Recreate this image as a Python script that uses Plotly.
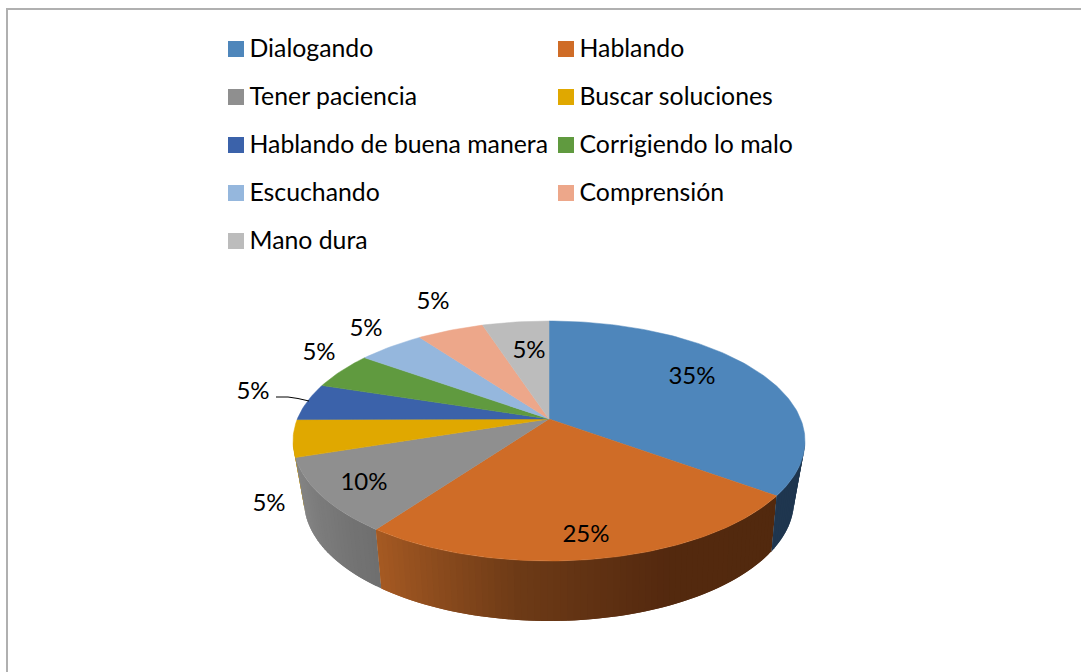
import numpy as np
import plotly.graph_objects as go

# ---- data ----
categories = ["Dialogando", "Hablando", "Tener paciencia", "Buscar soluciones",
              "Hablando de buena manera", "Corrigiendo lo malo", "Escuchando",
              "Comprensión", "Mano dura"]
values = [35, 25, 10, 5, 5, 5, 5, 5, 5]

# ---- style ----
colors = ["#4E86BB", "#CF6C27", "#8F8F8F", "#E0A800", "#3B62AA",
          "#609A3F", "#95B7DD", "#EDA78A", "#BCBCBC"]
wall_stops = {
    0: ["#1F364F", "#1F364F"],
    1: ["#52290E", "#54290F", "#6E3B17", "#A65A23"],
    2: ["#6F6F6F", "#868686"],
    3: ["#C49400", "#C49400"],
}
FONT = "Lato"
KEY_FS = 24.8
LABEL_FS = 24

# ---- tilted-disc geometry (axis units are the page's pixels) ----
CX, CY, RX, RY = 549, 441, 256, 120
AX, AY = 549, 419
BX, BY, BRX, BRY = 549, 501, 245, 120
PERSP = 0.09


def rim_angle(frac):
    z = np.exp(1j * (np.pi / 2 - 2 * np.pi * frac))
    c = PERSP * 1j
    w = (z + c) / (1 + np.conj(c) * z)
    t = (np.pi / 2 - np.angle(w)) % (2 * np.pi)
    return 2 * np.pi if frac >= 1 else t


def top_pt(t):
    return CX + RX * np.sin(t), CY - RY * np.cos(t)


def bot_pt(t):
    d = t - np.pi
    tb = np.pi + d * np.where(d < 0, 1.04, 1.015)
    return BX + BRX * np.sin(tb), BY - BRY * np.cos(tb)


def lerp_color(stops, f):
    rgb = np.array([[int(s[i:i + 2], 16) for i in (1, 3, 5)] for s in stops], float)
    p = f * (len(stops) - 1)
    i = min(int(p), len(stops) - 2)
    c = rgb[i] + (rgb[i + 1] - rgb[i]) * (p - i)
    return "rgb(%d,%d,%d)" % tuple(c)


total = sum(values)
cum = np.cumsum([0] + values) / total
bounds = [rim_angle(f) for f in cum]
bounds[0] = 0.0

fig = go.Figure()

# side walls, painted back to front; each band overlaps the next one so that
# no seams appear between them
for idx in (3, 2, 1, 0):
    t1 = max(bounds[idx], np.pi / 2)
    t2 = min(bounds[idx + 1], 3 * np.pi / 2)
    n = max(int(np.degrees(t2 - t1) / 1.5), 1)
    edges = np.linspace(t1, t2, n + 1)
    for k in range(n):
        ts = np.linspace(edges[k], edges[min(k + 2, n)], 5)
        tx, ty = top_pt(ts)
        bx, by = bot_pt(ts[::-1])
        col = lerp_color(wall_stops[idx], (k + 0.5) / n)
        fig.add_trace(go.Scatter(
            x=np.r_[tx, bx, tx[0]], y=np.r_[ty, by, ty[0]], mode="lines",
            fill="toself", fillcolor=col, line=dict(width=0),
            hoverinfo="skip", showlegend=False))

# top faces
for i, (name, col) in enumerate(zip(categories, colors)):
    n = max(int(np.degrees(bounds[i + 1] - bounds[i])), 4)
    ts = np.linspace(bounds[i], bounds[i + 1], n)
    rx, ry = top_pt(ts)
    fig.add_trace(go.Scatter(
        x=np.r_[AX, rx, AX], y=np.r_[AY, ry, AY], mode="lines", fill="toself",
        fillcolor=col, line=dict(color=col, width=0.5), name=name,
        text=f"{name}: {values[i]}%", hoverinfo="text", showlegend=False))

# leader line of the "Hablando de buena manera" label
fig.add_trace(go.Scatter(x=[276, 288, 298, 309], y=[397, 397, 398.5, 401], mode="lines",
                         line=dict(color="#000000", width=1), hoverinfo="skip",
                         showlegend=False))

# percentage labels (slice order)
label_x = [692, 586, 364, 269, 253, 319, 366, 433, 529]
label_y = [378, 536, 484, 505, 393, 354, 330, 303, 352]
fig.add_trace(go.Scatter(
    x=label_x, y=label_y, mode="text", text=[f"{v}%" for v in values],
    textposition="middle center", textfont=dict(family=FONT, size=LABEL_FS, color="#000000"),
    hoverinfo="skip", showlegend=False))

# key: two columns, rows 48 px apart
for i, (name, col) in enumerate(zip(categories, colors)):
    kx = 236 + 330 * (i % 2)
    ky = 49 + 48 * (i // 2)
    fig.add_trace(go.Scatter(
        x=[kx], y=[ky], mode="markers",
        marker=dict(symbol="square", size=16, color=col, line=dict(width=0)),
        hoverinfo="skip", showlegend=False))
    fig.add_trace(go.Scatter(
        x=[kx + 13.5], y=[ky + 2], mode="text", text=[name], textposition="middle right",
        textfont=dict(family=FONT, size=KEY_FS, color="#000000"),
        hoverinfo="skip", showlegend=False))

fig.update_layout(
    width=1081, height=672, margin=dict(l=0, r=0, t=0, b=0, pad=0),
    paper_bgcolor="#FFFFFF", plot_bgcolor="#FFFFFF", showlegend=False,
    xaxis=dict(range=[0, 1081], visible=False, fixedrange=True),
    yaxis=dict(range=[672, 0], visible=False, fixedrange=True),
    shapes=[
        dict(type="line", xref="x", yref="y", x0=7, x1=7, y0=9, y1=672,
             line=dict(color="#B0B0B0", width=2)),
        dict(type="line", xref="x", yref="y", x0=6, x1=1081, y0=9, y1=9,
             line=dict(color="#B0B0B0", width=2)),
    ],
)

fig.write_html("out.html", config={"displayModeBar": False},
               post_script="document.body.style.margin='0';document.body.style.overflow='hidden';")
